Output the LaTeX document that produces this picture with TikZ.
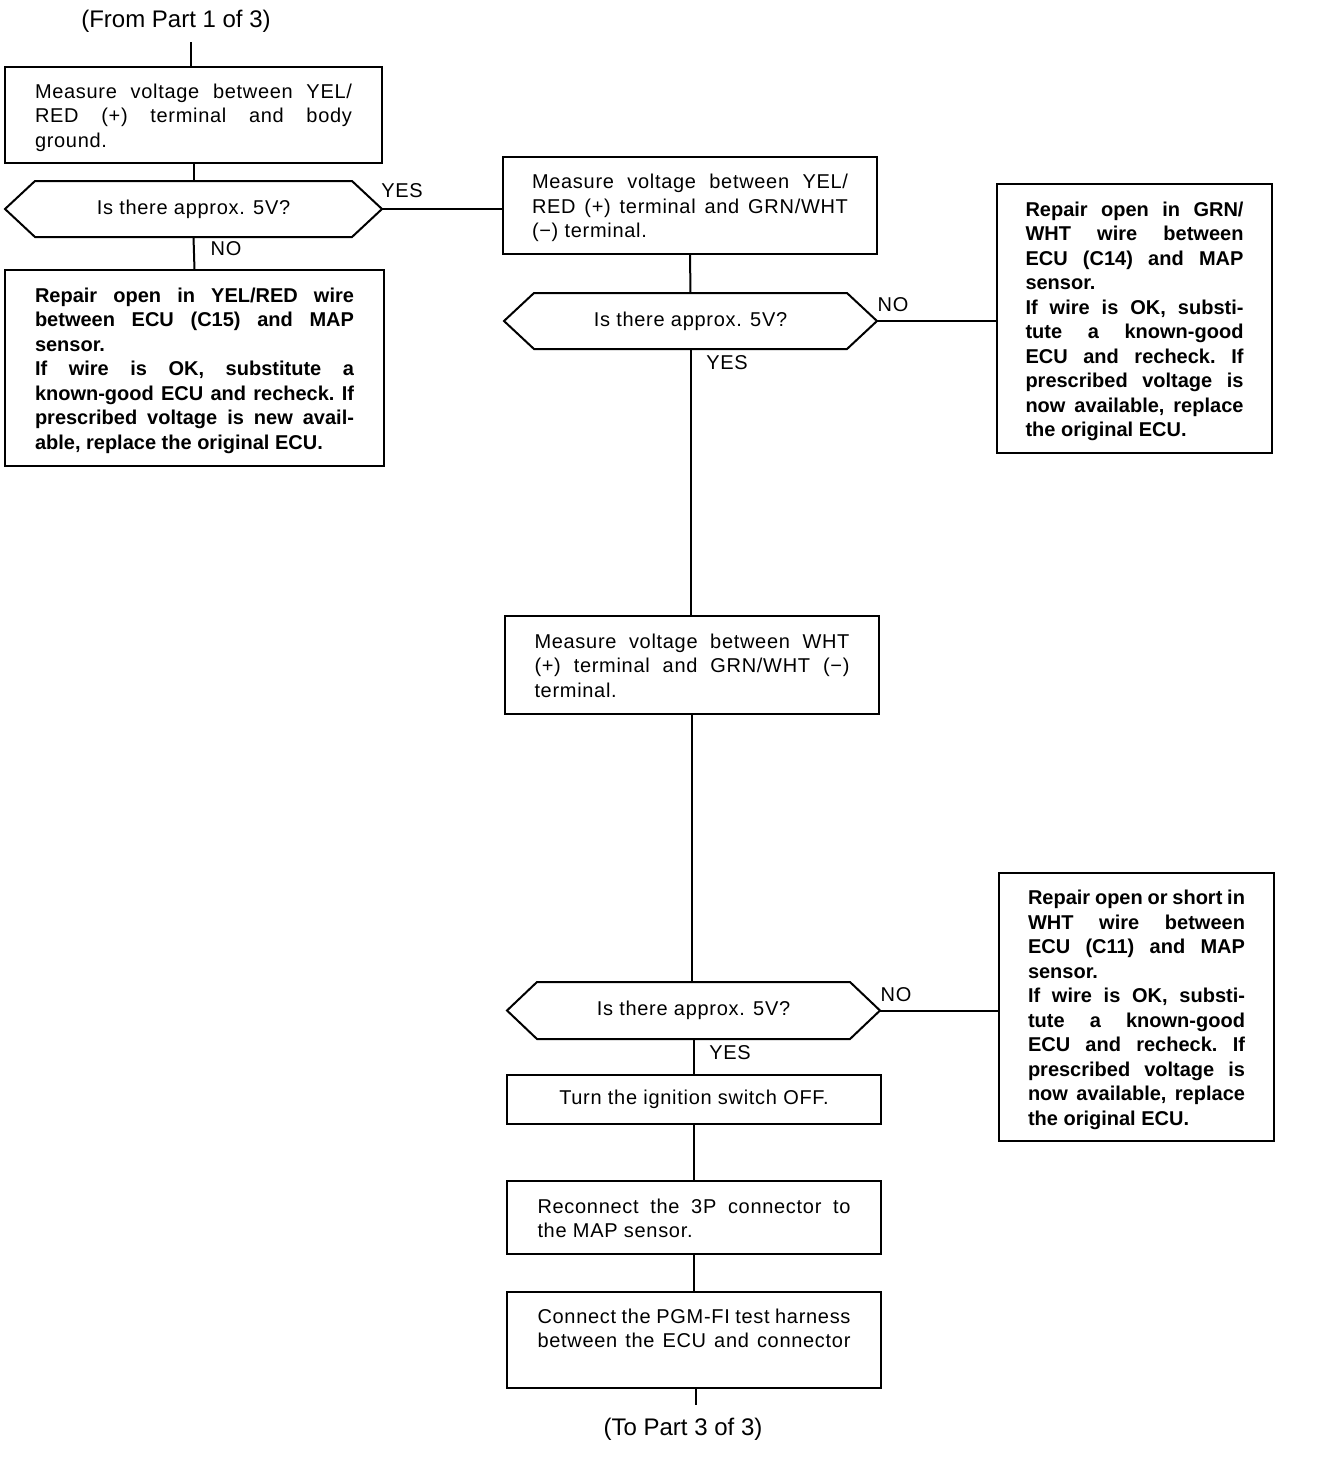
\documentclass[tikz,border=0pt]{standalone}
\usepackage{fontspec}
\setmainfont{Liberation Sans}
\newcommand\jln[1]{\hbox to\hsize{\strut\frenchspacing\spaceskip=0.278em plus 1fil minus 0.12em\relax #1}}
\newcommand\lln[1]{\hbox to\hsize{\strut #1\hfil}}
\newcommand\txtblock[2]{\vbox{\hsize=#1\relax\kern3pt #2}}
\newcommand\hexa[1]{\draw[conn] (#1.west) -- ([xshift=15pt]#1.north west) -- ([xshift=-15pt]#1.north east) -- (#1.east) -- ([xshift=-15pt]#1.south east) -- ([xshift=15pt]#1.south west) -- cycle;}
\tikzset{
  txt/.style={font=\fontsize{10}{12.25}\selectfont\addfontfeature{LetterSpace=3.5}},
  stepbox/.style={txt, draw, line width=1pt, inner sep=0pt, outer sep=0pt},
  repairbox/.style={draw, line width=1pt, inner sep=0pt, outer sep=0pt, font=\fontsize{10}{12.25}\selectfont\bfseries},
  decision/.style={txt, inner sep=0pt, outer sep=0pt, minimum height=28pt},
  conn/.style={line width=1pt},
  lbl/.style={txt, inner sep=0pt},
  partlbl/.style={font=\fontsize{12}{14}\selectfont, inner sep=0pt}
}
\begin{document}
\begin{tikzpicture}[x=0.5pt, y=-0.5pt]
\useasboundingbox (0,0) rectangle (1328,1464);

% top / bottom labels
\node[partlbl] (from) at (176,21) {(From Part 1 of 3)};
\coordinate (topc) at (191,42);
\node[partlbl] (to) at (683,1429) {(To Part 3 of 3)};
\coordinate (botc) at (696,1405);

% boxes
\node[stepbox, minimum width=188.5pt, minimum height=48pt] (b1) at (193.5,115) {\txtblock{158.5pt}{%
  \jln{Measure voltage between YEL/}
  \jln{RED (+) terminal and body}
  \lln{ground.}}};

\node[decision, minimum width=188.5pt] (d1) at (193.5,209) {Is there approx. 5V?};
\hexa{d1}

\node[repairbox, minimum width=189.5pt, minimum height=98pt] (b3) at (194.5,368) {\txtblock{159.5pt}{%
  \jln{Repair open in YEL/RED wire}
  \jln{between ECU (C15) and MAP}
  \lln{sensor.}
  \jln{If wire is OK, substitute a}
  \jln{known-good ECU and recheck. If}
  \jln{prescribed voltage is new avail-}
  \lln{able, replace the original ECU.}}};

\node[stepbox, minimum width=187pt, minimum height=48.5pt] (b2) at (690,205.5) {\txtblock{158pt}{%
  \jln{Measure voltage between YEL/}
  \jln{RED (+) terminal and GRN/WHT}
  \lln{(−) terminal.}}};

\node[decision, minimum width=186.5pt] (d2) at (690.5,321) {Is there approx. 5V?};
\hexa{d2}

\node[repairbox, minimum width=137.5pt, minimum height=134.5pt] (b4) at (1134.5,318.5) {\txtblock{109pt}{%
  \jln{Repair open in GRN/}
  \jln{WHT wire between}
  \jln{ECU (C14) and MAP}
  \lln{sensor.}
  \jln{If wire is OK, substi-}
  \jln{tute a known-good}
  \jln{ECU and recheck. If}
  \jln{prescribed voltage is}
  \jln{now available, replace}
  \lln{the original ECU.}}};

\node[stepbox, minimum width=187pt, minimum height=49pt] (b5) at (692,665) {\txtblock{157.5pt}{%
  \jln{Measure voltage between WHT}
  \jln{(+) terminal and GRN/WHT (−)}
  \lln{terminal.}}};

\node[decision, minimum width=186.5pt, minimum height=28.5pt] (d3) at (693.5,1010.5) {Is there approx. 5V?};
\hexa{d3}

\node[repairbox, minimum width=137.5pt, minimum height=134pt] (b6) at (1136.5,1007) {\txtblock{108.5pt}{%
  \jln{Repair open or short in}
  \jln{WHT wire between}
  \jln{ECU (C11) and MAP}
  \lln{sensor.}
  \jln{If wire is OK, substi-}
  \jln{tute a known-good}
  \jln{ECU and recheck. If}
  \jln{prescribed voltage is}
  \jln{now available, replace}
  \lln{the original ECU.}}};

\node[stepbox, minimum width=187pt, minimum height=24.5pt] (b7) at (694,1099.5) {Turn the ignition switch OFF.};

\node[stepbox, minimum width=187pt, minimum height=36.5pt] (b8) at (694,1217.5) {\txtblock{156.5pt}{%
  \jln{Reconnect the 3P connector to}
  \lln{the MAP sensor.}}};

\node[stepbox, minimum width=187pt, minimum height=48pt] (b9) at (694,1340) {\txtblock{156.5pt}{%
  \jln{Connect the PGM-FI test harness}
  \jln{between the ECU and connector}
  \lln{}}};

% branch labels
\node[lbl] (yes1) at (402,191) {YES};
\node[lbl] (no1) at (226,249) {NO};
\node[lbl] (no2) at (893,305) {NO};
\node[lbl] (yes2) at (727,363) {YES};
\node[lbl] (no3) at (896,995) {NO};
\node[lbl] (yes3) at (730,1053) {YES};

% connectors
\draw[conn] (topc) -- (topc |- b1.north);
\draw[conn] (b1.south) -- (d1.north);
\draw[conn] (d1.east) -- (d1.east -| b2.west);
\draw[conn] (d1.south) -- (b3.north);
\draw[conn] (b2.south) -- (d2.north);
\draw[conn] (d2.east) -- (d2.east -| b4.west);
\draw[conn] (d2.south) -- (d2.south |- b5.north);
\draw[conn] (b5.south) -- (b5.south |- d3.north);
\draw[conn] (d3.east) -- (d3.east -| b6.west);
\draw[conn] (d3.south) -- (d3.south |- b7.north);
\draw[conn] (b7.south) -- (b8.north);
\draw[conn] (b8.south) -- (b9.north);
\draw[conn] (botc |- b9.south) -- (botc);
\end{tikzpicture}
\end{document}
